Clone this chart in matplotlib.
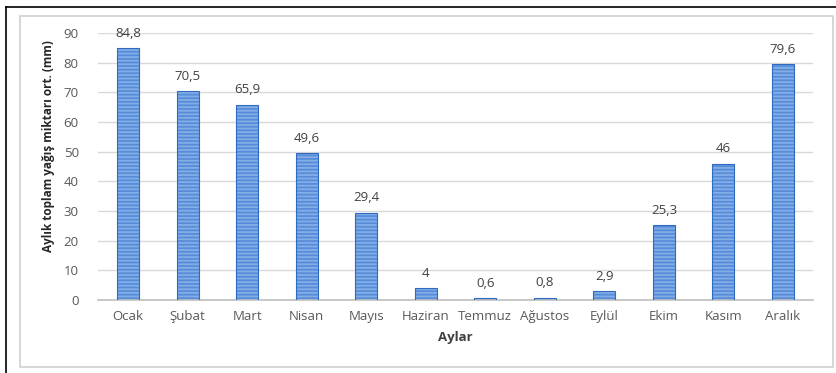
import matplotlib.pyplot as plt
from matplotlib.patches import Rectangle
from matplotlib.lines import Line2D

aylar = ["Ocak", "Şubat", "Mart", "Nisan", "Mayıs", "Haziran", "Temmuz",
         "Ağustos", "Eylül", "Ekim", "Kasım", "Aralık"]
yagis = [84.8, 70.5, 65.9, 49.6, 29.4, 4, 0.6, 0.8, 2.9, 25.3, 46, 79.6]
etiketler = ["84,8", "70,5", "65,9", "49,6", "29,4", "4", "0,6", "0,8",
             "2,9", "25,3", "46", "79,6"]

plt.rcParams['font.family'] = ['Open Sans', 'DejaVu Sans']
plt.rcParams['hatch.linewidth'] = 0.5
metin = "#404040"

fig = plt.figure(figsize=(8.37, 3.73), dpi=100)
ax = fig.add_axes([0.1174, 0.1957, 0.8536, 0.7158])

x = range(len(aylar))
# çizgili dolgu: mavi zemin üzerinde açık yatay çizgiler
ax.bar(x, yagis, width=0.37, facecolor="#3172d0", edgecolor="#a9c8f0",
       hatch="-" * 12, linewidth=0, zorder=2)
ax.bar(x, yagis, width=0.37, facecolor="none", edgecolor="#2e6bc0",
       linewidth=0.8, zorder=3)

for i, (v, t) in enumerate(zip(yagis, etiketler)):
    ax.annotate(t, (i, v), xytext=(0, 6), textcoords="offset points",
                ha="center", va="bottom", fontsize=9.5, color=metin)

ax.set_xlim(-0.5, len(aylar) - 0.5)
ax.set_ylim(0, 90)
ax.set_yticks(range(0, 91, 10))
ax.set_xticks(list(x))
ax.set_xticklabels(aylar)
ax.tick_params(axis="both", length=0, labelsize=9.5, colors="#595959")
ax.tick_params(axis="y", pad=14)
ax.tick_params(axis="x", pad=7)
ax.grid(axis="y", color="#d9d9d9", linewidth=1, zorder=0)
ax.set_axisbelow(True)
for s in ["top", "right", "left"]:
    ax.spines[s].set_visible(False)
ax.spines["bottom"].set_color("#bfbfbf")
ax.spines["bottom"].set_linewidth(1.2)

ax.set_xlabel("Aylar", fontsize=9.5, fontweight="bold", color=metin, labelpad=6)
ax.set_ylabel("Aylık toplam yağış miktarı ort. (mm)", fontsize=8.5,
              fontweight="bold", color="#262626")
ax.yaxis.set_label_coords(-0.06, 0.577)

W, H = 837, 373
# grafik alanı çerçevesi
fig.patches.append(Rectangle((20 / W, 1 - 367 / H), 813 / W, 351 / H,
                             transform=fig.transFigure, fill=False,
                             edgecolor="#d0d0d0", linewidth=1.2))
# dış kenar çizgileri
fig.lines.append(Line2D([6 / W, 6 / W], [0, 1 - 7 / H],
                        transform=fig.transFigure, color="black", linewidth=1.2))
fig.lines.append(Line2D([6 / W, 1], [1 - 7 / H, 1 - 7 / H],
                        transform=fig.transFigure, color="black", linewidth=1.2))

fig.savefig("out.png", dpi=100)
